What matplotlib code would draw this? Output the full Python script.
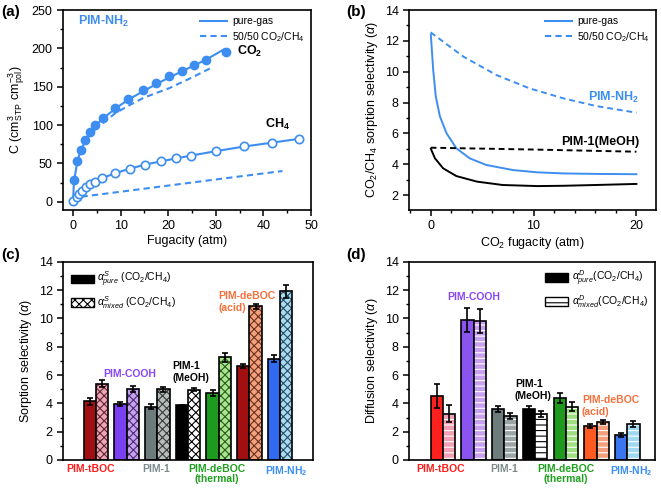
import numpy as np
import matplotlib
matplotlib.use('Agg')
import matplotlib.pyplot as plt
from matplotlib.patches import Patch
from matplotlib.lines import Line2D
from matplotlib.ticker import MultipleLocator

plt.rcParams['font.family'] = ['Liberation Sans', 'DejaVu Sans']
plt.rcParams['mathtext.fontset'] = 'custom'
plt.rcParams['mathtext.rm'] = 'Liberation Sans'
plt.rcParams['mathtext.it'] = 'Liberation Sans:italic'
plt.rcParams['mathtext.bf'] = 'Liberation Sans:bold'
plt.rcParams['font.size'] = 9
plt.rcParams['hatch.linewidth'] = 0.8

# ---------------- data: panel (a) ----------------
co2_f = [0.2, 0.9, 1.6, 2.6, 3.6, 4.7, 6.2, 8.8, 11.6, 14.7, 17.4, 20.2, 22.9, 25.5, 27.9, 32.2]
co2_c = [28, 53, 67, 80, 91, 100, 109, 122, 134, 146, 155, 164, 171, 178, 185, 195]
co2_fit_f = [0, 0.2, 0.9, 1.6, 2.6, 3.6, 4.7, 6.2, 8.8, 11.6, 14.7, 17.4, 20.2, 22.9, 25.5, 27.9, 31.8]
co2_fit_c = [0, 26, 52, 66, 80, 90, 99, 108, 121, 133, 144, 153, 162, 170, 178, 185, 199]
co2_mix_f = [3.0, 5.0, 8.8, 11.6, 15.0, 20.2, 25.0, 29.5]
co2_mix_c = [84, 96, 115, 125, 136, 148, 162, 176]
ch4_f = [0, 0.8, 1.3, 1.9, 2.7, 3.6, 4.7, 6.1, 8.8, 11.9, 15.2, 18.4, 21.6, 24.7, 30.1, 36.0, 41.8, 47.5]
ch4_c = [1, 5.7, 10, 14, 19, 23, 26, 30.6, 37, 43, 48.5, 52.5, 56.4, 60, 66, 72, 77, 82]
ch4_mix_f = [1.8, 10, 20, 30, 44]
ch4_mix_c = [6.5, 13, 21, 29, 40]

# ---------------- data: panel (b) ----------------
nh2_pure_f = [0.02, 0.25, 0.5, 0.9, 1.55, 2.5, 3.8, 5.4, 8.0, 10.4, 13.0, 16.1, 20.0]
nh2_pure_s = [12.4, 10.1, 8.4, 7.1, 6.0, 5.03, 4.38, 3.95, 3.62, 3.47, 3.4, 3.37, 3.35]
nh2_mix_f = [0, 3.2, 6.4, 9.6, 12.9, 16.1, 20.0]
nh2_mix_s = [12.55, 10.97, 9.78, 8.92, 8.27, 7.77, 7.34]
pim1_pure_f = [0.02, 0.42, 1.22, 2.5, 4.5, 7.0, 10.4, 12.9, 16.0, 20.0]
pim1_pure_s = [5.0, 4.38, 3.73, 3.23, 2.87, 2.65, 2.58, 2.6, 2.65, 2.72]
pim1_mix_f = [0, 10, 20]
pim1_mix_s = [5.07, 4.95, 4.81]

# ---------------- data: panels (c), (d) ----------------
groups = [1, 2, 3, 4, 5, 6, 7]
sorp_pure = [4.15, 3.93, 3.77, 3.85, 4.71, 6.64, 7.15]
sorp_pure_err = [0.25, 0.15, 0.15, 0.06, 0.2, 0.12, 0.25]
sorp_mixed = [5.37, 5.01, 5.0, 4.97, 7.25, 10.85, 11.9]
sorp_mixed_err = [0.25, 0.2, 0.17, 0.12, 0.3, 0.17, 0.45]
diff_pure = [4.5, 9.9, 3.58, 3.57, 4.4, 2.4, 1.75]
diff_pure_err = [0.85, 0.85, 0.2, 0.27, 0.35, 0.12, 0.15]
diff_mixed = [3.25, 9.8, 3.11, 3.23, 3.77, 2.66, 2.55]
diff_mixed_err = [0.6, 0.85, 0.2, 0.22, 0.3, 0.15, 0.2]

c_pure_col = ['#a10f12', '#7a40f2', '#6d7b7b', '#000000', '#1e9a1e', '#a10f12', '#2f6af0']
c_mixed_col = ['#f0a3b6', '#c8a0f0', '#b4bcbc', '#ffffff', '#a6e68c', '#f4a07c', '#a6dcf2']
d_pure_col = ['#ff2020', '#8a55ee', '#6d7b7b', '#000000', '#1e9a1e', '#ff5a22', '#3a76f0']
d_mixed_col = ['#f4a0b4', '#c8a0f0', '#9aa4a4', '#ffffff', '#9ee080', '#f4a07c', '#a0d8f2']
d_hatch_col = ['#ffffff', '#ffffff', '#ffffff', '#000000', '#ffffff', '#ffffff', '#ffffff']

blue = '#3d8ef0'

fig = plt.figure(figsize=(6.61, 4.88), dpi=100)
axa = fig.add_axes([0.0953, 0.5697, 0.3752, 0.4098])
axb = fig.add_axes([0.6188, 0.5697, 0.3736, 0.4098])
axc = fig.add_axes([0.0953, 0.0574, 0.3782, 0.4063])
axd = fig.add_axes([0.6188, 0.0574, 0.3721, 0.4063])

for ax in (axa, axb, axc, axd):
    for s in ax.spines.values():
        s.set_linewidth(1.2)
    ax.tick_params(which='major', direction='out', length=4, width=1.1, labelsize=9)
    ax.tick_params(which='minor', direction='out', length=2.2, width=1.0)

dash = (0, (3, 2))

# ---------------- (a) ----------------
axa.plot(co2_fit_f, co2_fit_c, '-', color=blue, lw=1.5)
axa.plot(co2_f, co2_c, 'o', color=blue, ms=6, mec=blue)
axa.plot(co2_mix_f, co2_mix_c, linestyle=dash, color=blue, lw=1.5)
axa.plot(ch4_f, ch4_c, '-', color=blue, lw=1.5)
axa.plot(ch4_f, ch4_c, 'o', color=blue, ms=6, mfc='white', mec=blue, mew=1.2)
axa.plot(ch4_mix_f, ch4_mix_c, linestyle=dash, color=blue, lw=1.5)
axa.set_xlim(-2.1, 50)
axa.set_ylim(-10.8, 250)
axa.xaxis.set_major_locator(MultipleLocator(10))
axa.xaxis.set_minor_locator(MultipleLocator(5))
axa.yaxis.set_major_locator(MultipleLocator(50))
axa.yaxis.set_minor_locator(MultipleLocator(25))
axa.set_xlabel('Fugacity (atm)', fontsize=9, labelpad=2)
axa.set_ylabel(r'C (cm$^{3}_{\mathrm{STP}}$ cm$^{-3}_{\mathrm{pol}}$)', fontsize=9, labelpad=3)
axa.text(1, 235, r'PIM-NH$_\mathbf{2}$', color=blue, fontsize=9, fontweight='bold', va='center')
axa.text(34.5, 196, r'CO$_\mathbf{2}$', color='k', fontsize=9, fontweight='bold', va='center')
axa.text(43, 101, r'CH$_\mathbf{4}$', color='k', fontsize=9, fontweight='bold', va='center', ha='center')
hl = [Line2D([], [], color=blue, lw=1.5), Line2D([], [], color=blue, lw=1.5, linestyle=dash)]
axa.legend(hl, ['pure-gas', r'50/50 CO$_2$/CH$_4$'], loc='upper right', frameon=False,
           fontsize=7.5, handlelength=2.6, borderaxespad=0.2, labelspacing=0.35, handletextpad=0.5)

# ---------------- (b) ----------------
axb.plot(nh2_pure_f, nh2_pure_s, '-', color=blue, lw=1.4)
axb.plot(nh2_mix_f, nh2_mix_s, linestyle=dash, color=blue, lw=1.4)
axb.plot(pim1_pure_f, pim1_pure_s, '-', color='k', lw=1.4)
axb.plot(pim1_mix_f, pim1_mix_s, linestyle=dash, color='k', lw=1.4)
axb.set_xlim(-2.1, 21.9)
axb.set_ylim(1.03, 14)
axb.xaxis.set_major_locator(MultipleLocator(10))
axb.xaxis.set_minor_locator(MultipleLocator(2))
axb.yaxis.set_major_locator(MultipleLocator(2))
axb.yaxis.set_minor_locator(MultipleLocator(1))
axb.set_yticks([2, 4, 6, 8, 10, 12, 14])
axb.set_xlabel(r'CO$_2$ fugacity (atm)', fontsize=9, labelpad=2)
axb.set_ylabel(r'CO$_2$/CH$_4$ sorption selectivity ($\alpha$)', fontsize=9, labelpad=3)
axb.text(17.8, 8.35, r'PIM-NH$_\mathbf{2}$', color=blue, fontsize=9, fontweight='bold', va='center', ha='center')
axb.text(16.5, 5.45, 'PIM-1(MeOH)', color='k', fontsize=9, fontweight='bold', va='center', ha='center')
hl = [Line2D([], [], color=blue, lw=1.5), Line2D([], [], color=blue, lw=1.5, linestyle=dash)]
axb.legend(hl, ['pure-gas', r'50/50 CO$_2$/CH$_4$'], loc='upper right', frameon=False,
           fontsize=7.5, handlelength=2.6, borderaxespad=0.2, labelspacing=0.35, handletextpad=0.5)

# ---------------- bars ----------------
def draw_bars(ax, pure, perr, mixed, merr, pcol, mcol, hcol, hatch):
    x = np.array(groups, dtype=float)
    w = 0.4
    ax.bar(x - 0.2, pure, w, color=pcol, edgecolor='k', linewidth=1.2, zorder=2)
    for xi, v, fc, hc in zip(x + 0.2, mixed, mcol, hcol):
        ax.bar([xi], [v], w, color=fc, edgecolor=hc, hatch=hatch, linewidth=0, zorder=2)
    ax.bar(x + 0.2, mixed, w, fill=False, edgecolor='k', linewidth=1.2, zorder=3)
    ax.errorbar(x - 0.2, pure, yerr=perr, fmt='none', ecolor='k', elinewidth=1.2,
                capsize=2.5, capthick=1.2, zorder=4)
    ax.errorbar(x + 0.2, mixed, yerr=merr, fmt='none', ecolor='k', elinewidth=1.2,
                capsize=2.5, capthick=1.2, zorder=4)
    ax.set_ylim(0, 14)
    ax.yaxis.set_major_locator(MultipleLocator(2))
    ax.yaxis.set_minor_locator(MultipleLocator(1))
    ax.set_xticks([])

c_hatch_col = ['#5a2a30', '#4a3070', '#3a3a3a', '#000000', '#2f5a20', '#6a3020', '#2a4a60']
draw_bars(axc, sorp_pure, sorp_pure_err, sorp_mixed, sorp_mixed_err,
          c_pure_col, c_mixed_col, c_hatch_col, 'xxxx')
axc.set_xlim(-0.07, 8.07)
axc.set_ylabel(r'Sorption selectivity ($\mathit{\alpha}$)', fontsize=9, labelpad=3)

draw_bars(axd, diff_pure, diff_pure_err, diff_mixed, diff_mixed_err,
          d_pure_col, d_mixed_col, d_hatch_col, '---')
axd.set_xlim(-0.1, 7.9)
axd.set_ylabel(r'Diffusion selectivity ($\alpha$)', fontsize=9, labelpad=3)

# legends for bars
lh_c = [Patch(facecolor='k', edgecolor='k'),
        Patch(facecolor='white', edgecolor='k', hatch='xxxx')]
axc.legend(lh_c, [r'$\alpha^{S}_{pure}$ (CO$_2$/CH$_4$)', r'$\alpha^{S}_{mixed}$ (CO$_2$/CH$_4$)'],
           loc='upper left', frameon=False, fontsize=7.5, handlelength=2.2, handleheight=0.9,
           borderaxespad=0.4, labelspacing=0.45, handletextpad=0.3)
lh_d = [Patch(facecolor='k', edgecolor='k'),
        Patch(facecolor='white', edgecolor='k', hatch='---')]
axd.legend(lh_d, [r'$\alpha^{D}_{pure}$(CO$_2$/CH$_4$)', r'$\alpha^{D}_{mixed}$(CO$_2$/CH$_4$)'],
           loc='upper right', frameon=False, fontsize=7.5, handlelength=2.2, handleheight=0.9,
           borderaxespad=0.3, labelspacing=0.45, handletextpad=0.3)

col_tboc = '#ff1c1c'
col_pim1 = '#7d8a8a'
col_therm = '#1ea01e'
col_nh2 = '#3a8ef5'
col_cooh = '#8a45f5'
col_acid = '#f5703c'

def bottom_labels(ax, xs):
    tr = ax.get_xaxis_transform()
    labs = ['PIM-tBOC', 'PIM-1', 'PIM-deBOC\n(thermal)', r'PIM-NH$_\mathbf{2}$']
    cols = [col_tboc, col_pim1, col_therm, col_nh2]
    for xv, lab, c in zip(xs, labs, cols):
        ax.text(xv, -0.02, lab, transform=tr, color=c, fontsize=7.5, fontweight='bold',
                ha='center', va='top', linespacing=1.05)

bottom_labels(axc, [0.84, 2.97, 4.95, 7.2])
bottom_labels(axd, [0.93, 3.0, 5.0, 7.14])

kw = dict(fontsize=7.5, fontweight='bold', va='center', linespacing=1.2)
axc.text(2.1, 6.1, 'PIM-COOH', color=col_cooh, ha='center', **kw)
axc.text(3.5, 6.2, 'PIM-1\n(MeOH)', color='k', ha='left', **kw)
axc.text(5.0, 11.15, 'PIM-deBOC\n(acid)', color=col_acid, ha='left', **kw)

axd.text(2.0, 11.5, 'PIM-COOH', color=col_cooh, ha='center', **kw)
axd.text(3.34, 4.93, 'PIM-1\n(MeOH)', color='k', ha='left', **kw)
axd.text(5.52, 3.83, 'PIM-deBOC\n(acid)', color=col_acid, ha='left', **kw)

# panel letters
for xx, yy, lab in [(0.002, 0.975, '(a)'), (0.524, 0.975, '(b)'),
                    (0.002, 0.478, '(c)'), (0.524, 0.478, '(d)')]:
    fig.text(xx, yy, lab, fontsize=11, fontweight='bold', va='center', ha='left')

fig.savefig('out.png', dpi=100)
